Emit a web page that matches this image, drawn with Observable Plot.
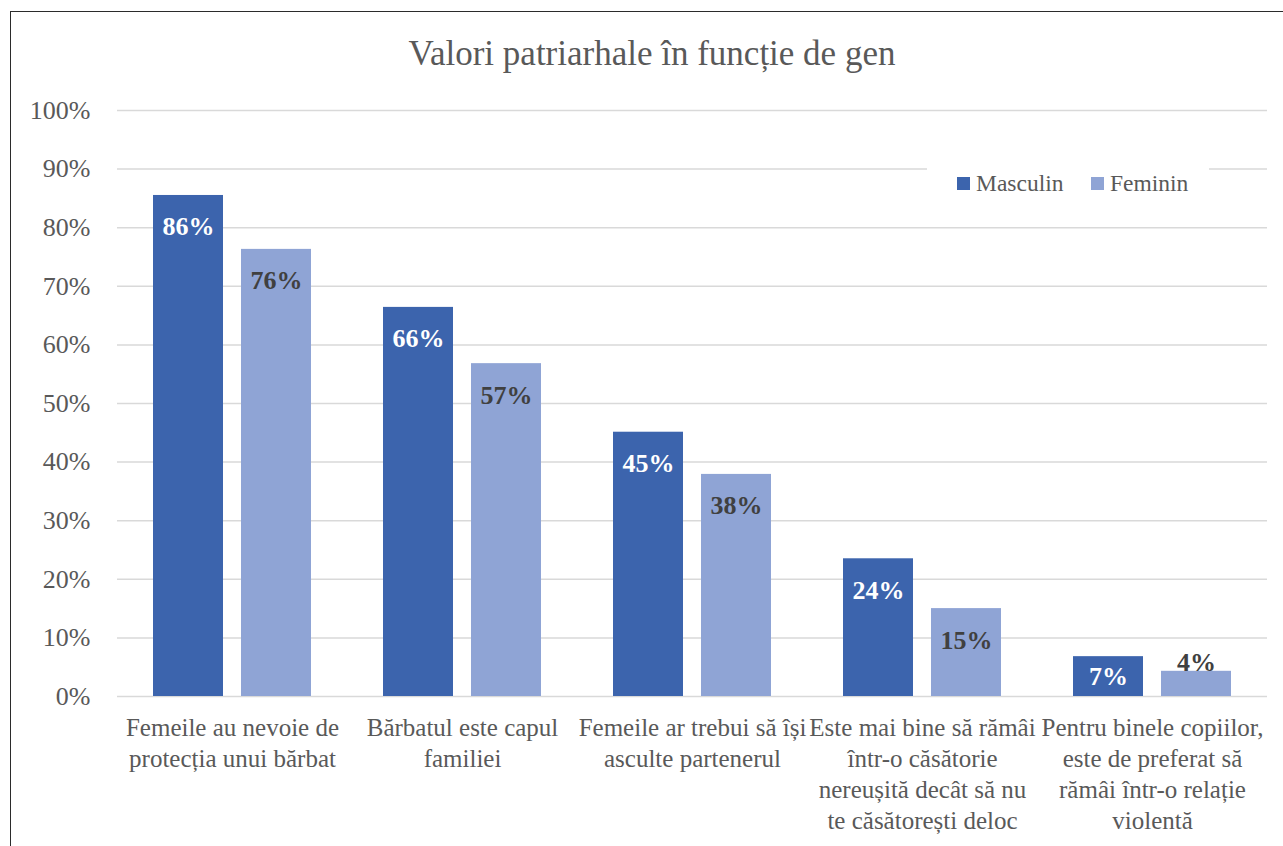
<!DOCTYPE html>
<html><head><meta charset="utf-8">
<script src="https://cdn.jsdelivr.net/npm/d3@7"></script>
<script src="https://cdn.jsdelivr.net/npm/@observablehq/plot@0.6"></script>
<style>
body{margin:0;background:#fff;}
#wrap{position:relative;width:1283px;height:846px;overflow:hidden;font-family:"Liberation Serif",serif;}
#frame{position:absolute;left:10px;top:11px;width:1300px;height:900px;border:1.5px solid #2b2b2b;box-sizing:border-box;}
#title{position:absolute;left:0;width:1304px;top:34px;text-align:center;font-size:35px;color:#595959;line-height:40px;}
#chart{position:absolute;left:0;top:0;}
#legend{position:absolute;left:927px;top:164px;width:282px;height:38px;background:#fff;font-size:23.5px;color:#595959;}
.item{position:absolute;top:0;height:38px;display:flex;align-items:center;}
.sw{width:13px;height:13px;margin-right:6px;}
</style></head>
<body>
<div id="wrap">
  <div id="frame"></div>
  <div id="chart"></div>
  <div id="title"></div>
  <div id="legend"></div>
</div>
<script>
const title = "Valori patriarhale în funcție de gen";
const categories = ["c1","c2","c3","c4","c5"];
const categoryLabels = [
  "Femeile au nevoie de\nprotecția unui bărbat",
  "Bărbatul este capul\nfamiliei",
  "Femeile ar trebui să își\nasculte partenerul",
  "Este mai bine să rămâi\nîntr-o căsătorie\nnereușită decât să nu\nte căsătorești deloc",
  "Pentru binele copiilor,\neste de preferat să\nrămâi într-o relație\nviolentă"
];
const series = ["Masculin", "Feminin"];
const masculin = [85.5, 66.4, 45.1, 23.5, 6.8];
const feminin = [76.3, 56.8, 37.9, 15.0, 4.3];
const barColors = ["#3c64ad", "#8fa4d5"];
const labelColors = ["#ffffff", "#404040"];
const yTicks = [0, 10, 20, 30, 40, 50, 60, 70, 80, 90, 100];

const values = [masculin, feminin];
const rows = categories.flatMap((c, i) => series.map((s, j) => ({cat: c, s, v: values[j][i]})));
const labelY = v => v >= 11 ? v - 5.4 : (v >= 6 ? v / 2 : v + 1.5);

const marks = [
  Plot.gridY(yTicks, {stroke: "#d9d9d9", strokeOpacity: 1, strokeWidth: 1.5})
];
series.forEach((s, j) => {
  const sub = rows.filter(r => r.s === s);
  marks.push(Plot.barY(sub, {fx: "cat", x: "s", y: "v", fill: barColors[j]}));
});
series.forEach((s, j) => {
  const sub = rows.filter(r => r.s === s);
  marks.push(Plot.text(sub, {fx: "cat", x: "s", y: d => labelY(d.v), text: d => Math.round(d.v) + "%",
    fill: labelColors[j], fontWeight: "bold", fontSize: 26}));
});
marks.push(Plot.axisY(yTicks, {tickSize: 0, tickPadding: 27, tickFormat: d => d + "%", fontSize: 26, fill: "#595959", label: null}));
marks.push(Plot.axisFx({anchor: "bottom", tickSize: 0, tickPadding: 18, fontSize: 25, lineHeight: 1.23,
  tickFormat: d => categoryLabels[categories.indexOf(d)], fill: "#595959", label: null}));

const chart = Plot.plot({
  width: 1283, height: 846,
  marginLeft: 117, marginRight: 16, marginTop: 110, marginBottom: 150,
  style: {fontFamily: "Liberation Serif", background: "transparent"},
  fx: {domain: categories, padding: 0, label: null},
  x: {domain: series, paddingInner: 0.2045, paddingOuter: 0.409, axis: null},
  y: {domain: [0, 100]},
  marks
});
document.getElementById("chart").appendChild(chart);
document.getElementById("title").textContent = title;

const legend = document.getElementById("legend");
const legendLeft = [30, 164];
series.forEach((s, j) => {
  const it = document.createElement("div");
  it.className = "item";
  it.style.left = legendLeft[j] + "px";
  it.innerHTML = `<span class="sw" style="background:${barColors[j]}"></span><span>${s}</span>`;
  legend.appendChild(it);
});
</script>
</body></html>
